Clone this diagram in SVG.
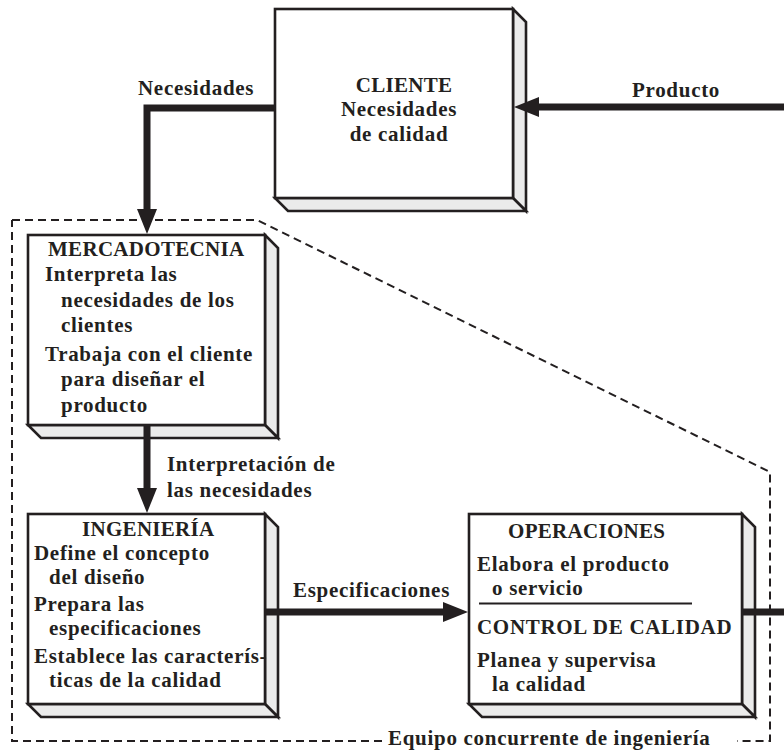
<svg xmlns="http://www.w3.org/2000/svg" width="784" height="752" viewBox="0 0 784 752">
  <defs>
    <style>
      .front { fill: #ffffff; stroke: #231f20; stroke-width: 2.6; stroke-linejoin: miter; }
      .side { fill: #ebebeb; stroke: #231f20; stroke-width: 2.6; stroke-linejoin: miter; }
      .lbl { font-family: "Liberation Serif", "Times New Roman", serif; font-weight: bold; font-size: 21px; letter-spacing: 0.7px; fill: #231f20; }
      .caps { letter-spacing: 0.3px; }
      .flow { fill: none; stroke: #231f20; stroke-width: 7; }
      .team { fill: none; stroke: #231f20; stroke-width: 2; stroke-dasharray: 8 5; }
      .rule { stroke: #231f20; stroke-width: 2; }
    </style>
    <marker id="arrow" markerUnits="userSpaceOnUse" viewBox="0 0 25 20" markerWidth="25" markerHeight="20" refX="1" refY="10" orient="auto">
      <path d="M0,0 L25,10 L0,20 Z" fill="#231f20"/>
    </marker>
  </defs>

  <!-- concurrent engineering team boundary -->
  <g id="team-boundary">
    <path class="team" d="M12,220 H257 L770,472 V741 H737 M382,741 H12 V220"/>
    <text class="lbl" x="388" y="745">Equipo concurrente de ingeniería</text>
  </g>

  <!-- CLIENTE -->
  <g id="cliente">
    <polygon class="side" points="513,9 526,22 526,211 513,198"/>
    <polygon class="side" points="275,198 513,198 526,211 288,211"/>
    <rect class="front" x="275" y="9" width="238" height="189"/>
    <text class="lbl caps" x="404" y="92" text-anchor="middle">CLIENTE</text>
    <text class="lbl" x="399" y="116" text-anchor="middle">Necesidades</text>
    <text class="lbl" x="399" y="141" text-anchor="middle">de calidad</text>
  </g>

  <!-- MERCADOTECNIA -->
  <g id="mercadotecnia">
    <polygon class="side" points="265,235 278,248 278,438 265,425"/>
    <polygon class="side" points="28,425 265,425 278,438 41,438"/>
    <rect class="front" x="28" y="235" width="237" height="190"/>
    <text class="lbl caps" x="48" y="256">MERCADOTECNIA</text>
    <text class="lbl" x="45" y="281">Interpreta las</text>
    <text class="lbl" x="61" y="307">necesidades de los</text>
    <text class="lbl" x="61" y="332">clientes</text>
    <text class="lbl" x="45" y="361">Trabaja con el cliente</text>
    <text class="lbl" x="61" y="386">para diseñar el</text>
    <text class="lbl" x="61" y="412">producto</text>
  </g>

  <!-- INGENIERÍA -->
  <g id="ingenieria">
    <polygon class="side" points="265,514 278,527 278,717 265,704"/>
    <polygon class="side" points="28,704 265,704 278,717 41,717"/>
    <rect class="front" x="28" y="514" width="237" height="190"/>
    <text class="lbl caps" x="82" y="536">INGENIERÍA</text>
    <text class="lbl" x="34" y="560">Define el concepto</text>
    <text class="lbl" x="49" y="584">del diseño</text>
    <text class="lbl" x="34" y="611">Prepara las</text>
    <text class="lbl" x="49" y="635">especificaciones</text>
    <text class="lbl" x="34" y="663">Establece las caracterís-</text>
    <text class="lbl" x="49" y="687">ticas de la calidad</text>
  </g>

  <!-- OPERACIONES / CONTROL DE CALIDAD -->
  <g id="operaciones">
    <polygon class="side" points="742,514 755,527 755,717 742,704"/>
    <polygon class="side" points="469,704 742,704 755,717 482,717"/>
    <rect class="front" x="469" y="514" width="273" height="190"/>
    <text class="lbl caps" x="508" y="538">OPERACIONES</text>
    <text class="lbl" x="477" y="571">Elabora el producto</text>
    <text class="lbl" x="492" y="595">o servicio</text>
    <line class="rule" x1="479" y1="603.5" x2="692" y2="603.5"/>
    <text class="lbl" x="477" y="634">CONTROL DE CALIDAD</text>
    <text class="lbl" x="477" y="667">Planea y supervisa</text>
    <text class="lbl" x="492" y="691">la calidad</text>
  </g>

  <!-- flows between areas -->
  <g id="connectors">
    <path class="flow" d="M276,108 H147 V210" marker-end="url(#arrow)"/>
    <path class="flow" d="M784,107 H538" marker-end="url(#arrow)"/>
    <path class="flow" d="M147,425 V489" marker-end="url(#arrow)"/>
    <path class="flow" d="M265,612 H444" marker-end="url(#arrow)"/>
    <path class="flow" d="M742,612 H784"/>
    <text class="lbl" x="138" y="95">Necesidades</text>
    <text class="lbl" x="632" y="97">Producto</text>
    <text class="lbl" x="167" y="471">Interpretación de</text>
    <text class="lbl" x="167" y="497">las necesidades</text>
    <text class="lbl" x="293" y="597">Especificaciones</text>
  </g>
</svg>
